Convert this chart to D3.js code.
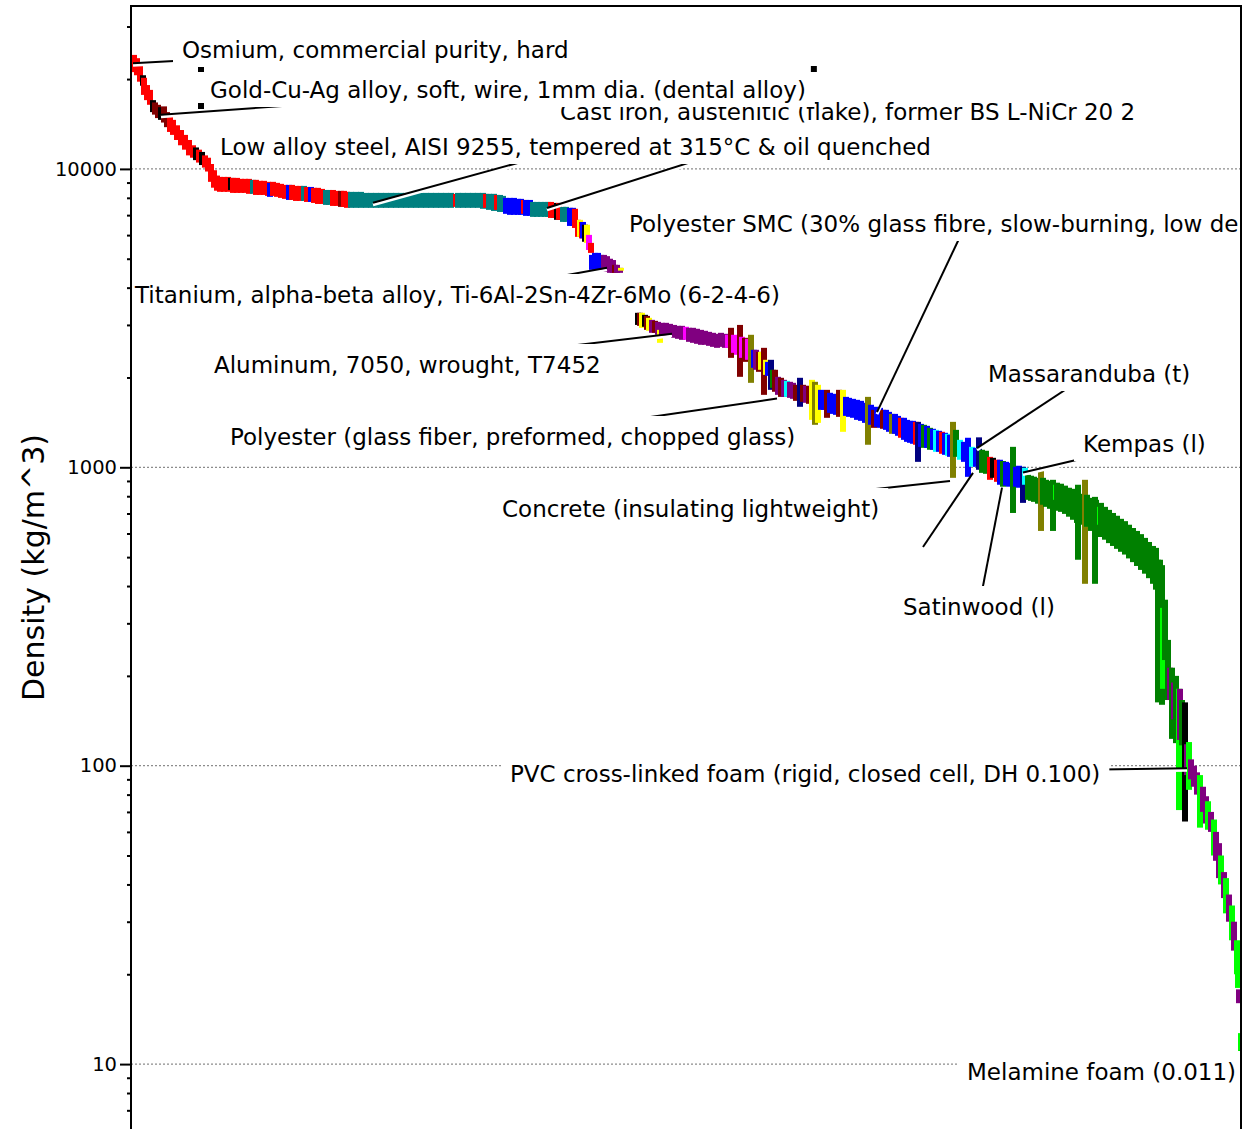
<!DOCTYPE html>
<html>
<head>
<meta charset="utf-8">
<script src="https://cdn.jsdelivr.net/npm/d3@7"></script>
<style>
  body { margin: 0; background: #fff; }
  svg { display: block; font-family: "DejaVu Sans", Verdana, sans-serif; }
  .callout text { font-size: 23px; fill: #000; }
</style>
</head>
<body>
<svg id="chart" width="1255" height="1129"></svg>
<script>
// ---- data -------------------------------------------------------------
// each bar: [rank, density low, density high, family code] (kg/m^3)
const bars = [
  [0, 21100, 24100, "R"], [3, 20600, 23500, "R"], [6, 19600, 22300, "R"],
  [9, 19000, 20600, "K"], [10, 17700, 20200, "R"], [13, 17000, 19100, "R"],
  [16, 16400, 18400, "R"], [19, 15500, 17000, "K"], [21, 15200, 16700, "D"],
  [24, 14800, 16400, "D"], [27, 14600, 16100, "K"], [30, 14300, 16200, "D"],
  [33, 13800, 15500, "D"], [36, 13300, 15200, "R"], [39, 13000, 14600, "R"],
  [43, 12500, 14000, "R"], [47, 12000, 13500, "R"], [51, 11600, 13000, "R"],
  [55, 11100, 12500, "R"], [59, 10900, 12000, "R"], [62, 10700, 11800, "K"],
  [65, 10500, 11600, "R"], [68, 10300, 11400, "K"], [71, 10100, 11100, "R"],
  [74, 9800, 10900, "R"], [77, 9050, 10500, "R"], [80, 8650, 9900, "R"],
  [83, 8450, 9500, "R"],
  [86, 8380, 9400, "R"], [90, 8380, 9400, "R"], [94, 8380, 9400, "R"],
  [97, 8500, 9330, "K"], [99, 8310, 9330, "R"], [103, 8310, 9330, "R"],
  [107, 8310, 9260, "R"], [111, 8310, 9260, "R"], [115, 8250, 9260, "R"],
  [119, 8250, 9190, "T"], [122, 8180, 9190, "R"], [126, 8180, 9120, "R"],
  [130, 8180, 9120, "R"], [134, 8120, 9050, "R"], [136, 8060, 8980, "B"],
  [139, 8120, 9050, "R"], [143, 8060, 8980, "R"], [147, 7995, 8910, "R"],
  [151, 7935, 8840, "R"], [155, 7870, 8840, "B"], [158, 7870, 8840, "R"],
  [162, 7810, 8770, "R"], [166, 7810, 8770, "R"], [170, 7810, 8770, "T"],
  [173, 7750, 8700, "R"], [177, 7750, 8700, "B"], [180, 7690, 8640, "R"],
  [184, 7630, 8640, "R"], [188, 7630, 8570, "R"], [192, 7575, 8500, "T"],
  [195, 7575, 8500, "T"], [199, 7515, 8500, "R"], [203, 7515, 8440, "R"],
  [207, 7460, 8440, "D"], [210, 7460, 8440, "R"], [213, 7405, 8380, "R"],
  [217, 7405, 8375, "T"], [222, 7405, 8375, "T"], [227, 7405, 8375, "T"],
  [232, 7405, 8310, "T"], [237, 7405, 8310, "T"], [242, 7405, 8310, "T"],
  [247, 7405, 8310, "T"], [252, 7405, 8310, "T"], [257, 7405, 8310, "T"],
  [262, 7405, 8310, "T"], [267, 7405, 8310, "T"], [272, 7405, 8310, "T"],
  [277, 7405, 8310, "T"], [282, 7405, 8310, "T"], [287, 7405, 8310, "T"],
  [292, 7405, 8310, "T"], [297, 7405, 8310, "T"], [302, 7405, 8310, "T"],
  [307, 7405, 8310, "T"], [312, 7405, 8310, "T"], [317, 7405, 8310, "T"],
  [322, 7460, 8245, "R"], [324, 7405, 8310, "T"], [329, 7405, 8310, "T"],
  [334, 7405, 8310, "T"], [339, 7405, 8310, "T"], [344, 7405, 8310, "T"],
  [349, 7350, 8310, "T"], [352, 7400, 8245, "R"], [355, 7290, 8250, "T"],
  [360, 7230, 8250, "T"], [363, 7290, 8180, "R"], [366, 7175, 8180, "T"],
  [369, 7175, 8120, "T"],
  [372, 7070, 7995, "B"], [376, 7015, 7995, "B"], [380, 7015, 7995, "B"],
  [384, 7015, 7935, "B"], [387, 7015, 7935, "B"], [390, 7070, 7870, "R"],
  [392, 6960, 7870, "B"], [396, 6960, 7870, "B"], [399, 6906, 7750, "T"],
  [403, 6906, 7750, "T"], [407, 6906, 7750, "T"], [411, 6906, 7750, "T"],
  [414, 6906, 7750, "T"], [417, 6850, 7750, "R"], [420, 6850, 7690, "R"],
  [423, 6750, 7690, "K"], [425, 6750, 7690, "R"], [429, 6643, 7460, "T"],
  [432, 6643, 7460, "T"], [436, 6440, 7405, "B"], [439, 6440, 7405, "B"],
  [441, 6340, 7350, "R"], [444, 5919, 6750, "R"], [446, 5919, 6750, "Y"],
  [448, 5850, 6640, "R"], [449, 5850, 6640, "B"], [451, 5700, 6500, "K"],
  [453, 5650, 6500, "Y"], [455, 5350, 6010, "M"], [457, 5230, 5650, "R"],
  [458, 4590, 5150, "B"], [461, 4590, 5230, "B"], [464, 4590, 5230, "B"],
  [467, 4590, 5150, "B"], [470, 4520, 5150, "P"], [473, 4520, 5100, "P"],
  [476, 4484, 5000, "P"], [479, 4484, 4950, "P"], [481, 4484, 4770, "D"],
  [483, 4484, 4770, "P"], [486, 4484, 4660, "P"], [487, 4560, 4660, "Y"],
  [504, 3000, 3294, "K"], [506, 2979, 3294, "D"], [508, 2934, 3294, "Y"],
  [511, 2957, 3243, "K"], [513, 2888, 3217, "D"], [515, 2867, 3169, "Y"],
  [518, 2823, 3120, "P"], [521, 2823, 3096, "D"], [524, 2780, 3072, "P"],
  [526, 2613, 2888, "Y"], [528, 2758, 3049, "P"], [532, 2737, 3049, "P"],
  [536, 2737, 3025, "P"], [540, 2716, 3000, "P"], [544, 2695, 2979, "P"],
  [548, 2674, 2979, "P"], [552, 2674, 2957, "M"], [555, 2633, 2934, "P"],
  [559, 2613, 2934, "P"], [563, 2593, 2912, "P"], [567, 2573, 2888, "P"],
  [571, 2573, 2867, "P"], [575, 2553, 2844, "P"], [579, 2533, 2823, "P"],
  [583, 2514, 2801, "P"], [587, 2533, 2823, "P"], [591, 2514, 2801, "P"],
  [594, 2514, 2780, "M"], [597, 2327, 2934, "D"], [600, 2419, 2780, "M"],
  [603, 2382, 2758, "M"], [606, 2010, 3000, "D"], [608, 2327, 2737, "M"],
  [611, 2256, 2716, "D"], [614, 2292, 2695, "M"], [617, 1919, 2780, "O"],
  [620, 2155, 2476, "B"], [622, 2122, 2476, "P"], [625, 2089, 2437, "D"],
  [627, 2122, 2437, "Y"], [630, 1749, 2514, "D"], [632, 2041, 2292, "Y"],
  [634, 2025, 2256, "B"], [637, 1818, 2292, "N"], [639, 1846, 2122, "G"],
  [641, 1791, 2122, "D"], [644, 1749, 2010, "P"], [647, 1722, 1995, "D"],
  [650, 1722, 1964, "P"], [653, 1722, 1949, "C"], [656, 1709, 1934, "P"],
  [659, 1696, 1919, "P"], [662, 1670, 1890, "D"], [666, 1595, 1995, "N"],
  [669, 1657, 1890, "D"], [672, 1645, 1875, "P"], [675, 1632, 1875, "D"],
  [678, 1442, 1964, "Y"], [681, 1388, 1934, "O"], [684, 1409, 1890, "Y"],
  [687, 1558, 1818, "B"], [690, 1558, 1804, "B"], [693, 1465, 1818, "D"],
  [696, 1522, 1777, "B"], [699, 1510, 1763, "B"], [702, 1499, 1749, "B"],
  [705, 1476, 1818, "D"], [709, 1315, 1818, "Y"], [712, 1487, 1722, "B"],
  [715, 1476, 1709, "B"], [719, 1465, 1696, "B"], [723, 1442, 1683, "B"],
  [727, 1431, 1670, "B"], [731, 1409, 1645, "B"], [734, 1190, 1722, "O"],
  [737, 1388, 1620, "B"], [740, 1356, 1558, "D"], [743, 1367, 1595, "B"],
  [746, 1356, 1582, "B"], [749, 1346, 1558, "D"], [752, 1335, 1558, "B"],
  [755, 1315, 1534, "B"], [758, 1295, 1510, "O"], [761, 1295, 1510, "B"],
  [764, 1275, 1487, "B"], [767, 1256, 1465, "R"], [770, 1236, 1465, "B"],
  [773, 1217, 1442, "B"], [776, 1208, 1431, "B"], [779, 1199, 1431, "B"],
  [782, 1190, 1420, "R"], [784, 1043, 1420, "N"], [787, 1171, 1398, "B"],
  [790, 1162, 1388, "G"], [793, 1162, 1377, "B"], [796, 1145, 1356, "G"],
  [799, 1145, 1346, "B"], [802, 1127, 1335, "C"], [805, 1127, 1325, "B"],
  [808, 1110, 1315, "R"], [811, 1101, 1305, "B"], [814, 1093, 1295, "C"],
  [816, 1084, 1285, "B"], [819, 922, 1420, "O"], [822, 1084, 1335, "G"],
  [826, 1060, 1236, "C"], [830, 1043, 1217, "B"], [834, 929, 1256, "B"],
  [838, 1004, 1171, "C"], [842, 1004, 1162, "B"], [845, 981, 1260, "N"],
  [848, 958, 1145, "G"], [852, 951, 1136, "G"], [856, 908, 1084, "R"],
  [859, 922, 1076, "K"], [863, 894, 1060, "R"], [866, 874, 1060, "B"],
  [869, 861, 1050, "G"], [872, 868, 1043, "B"], [875, 861, 1035, "B"],
  [879, 703, 1171, "G"], [882, 861, 1004, "B"], [885, 854, 1012, "B"],
  [889, 760, 1004, "N"], [891, 874, 996, "C"],
  [894, 778, 944, "G"], [897, 772, 937, "G"], [900, 766, 930, "G"],
  [904, 755, 922, "G"], [907, 612, 973, "O"], [909, 749, 922, "G"],
  [912, 737, 908, "G"], [916, 726, 901, "G"], [919, 612, 908, "G"],
  [922, 778, 874, "L"], [923, 715, 888, "G"], [927, 709, 881, "G"],
  [931, 698, 868, "G"], [935, 683, 854, "G"], [939, 667, 847, "G"],
  [943, 651, 828, "G"], [944, 490, 874, "G"], [948, 642, 815, "G"],
  [951, 407, 908, "O"], [953, 632, 809, "G"], [957, 612, 790, "G"],
  [961, 407, 796, "G"], [962, 597, 778, "G"], [966, 642, 737, "L"],
  [967, 584, 760, "G"], [971, 572, 737, "G"], [975, 557, 720, "G"],
  [979, 545, 703, "G"], [983, 533, 688, "G"], [987, 521, 672, "G"],
  [991, 510, 660, "G"], [995, 495, 642, "G"], [999, 481, 626, "G"],
  [1003, 467, 612, "G"], [1007, 453, 597, "G"], [1011, 440, 580, "G"],
  [1015, 425, 562, "G"], [1019, 407, 545, "G"], [1022, 389, 537, "G"],
  [1024, 163, 490, "G"], [1026, 338, 490, "G"], [1028, 160, 470, "G"],
  [1029, 181, 338, "L"], [1031, 226, 360, "G"], [1034, 166, 264, "G"],
  [1036, 166, 213, "P"], [1038, 123, 213, "G"], [1040, 143, 190, "P"],
  [1042, 119, 200, "G"], [1045, 71, 181, "L"], [1046, 122, 181, "P"],
  [1048, 117, 166, "G"], [1051, 65, 163, "K"], [1053, 93, 118, "P"],
  [1055, 83, 120, "L"], [1057, 90, 105, "P"], [1060, 85, 100, "P"],
  [1063, 80, 95, "P"], [1066, 62, 93, "L"], [1069, 70, 85, "P"],
  [1072, 64, 79, "P"], [1074, 61, 76, "L"], [1077, 60, 70, "P"],
  [1080, 50, 66, "L"], [1082, 48, 60, "P"], [1085, 42, 55, "P"],
  [1087, 40, 50, "L"], [1090, 36, 44, "P"], [1092, 32, 42, "L"],
  [1095, 30, 37, "P"], [1098, 26, 34, "L"], [1100, 24, 30, "P"],
  [1103, 20, 26, "L"], [1104, 18, 24, "L"], [1105, 16, 17.8, "P"],
  [1107, 9.5, 12.7, "L"]
];

// labelled materials, in drawing order
const calloutNames = [
  "Osmium, commercial purity, hard",
  "Cast iron, austenitic (flake), former BS L-NiCr 20 2",
  "Gold-Cu-Ag alloy, soft, wire, 1mm dia. (dental alloy)",
  "Low alloy steel, AISI 9255, tempered at 315°C & oil quenched",
  "Titanium, alpha-beta alloy, Ti-6Al-2Sn-4Zr-6Mo (6-2-4-6)",
  "Aluminum, 7050, wrought, T7452",
  "Polyester (glass fiber, preformed, chopped glass)",
  "Polyester SMC (30% glass fibre, slow-burning, low density)",
  "Massaranduba (t)",
  "Kempas (l)",
  "Concrete (insulating lightweight)",
  "Satinwood (l)",
  "",
  "PVC cross-linked foam (rigid, closed cell, DH 0.100)",
  "Melamine foam (0.011)"
];
const calloutRanks = [2, 416, 30, 242, 476, 541, 646, 746, 846, 892, 819, 871, 842, 1056, 1109];
const calloutDensities = [22600, 7400, 15200, 7700, 4660, 2800, 1700, 1530, 1160, 960, 900, 855, 958, 98, 11];

const majorTicks = [10, 100, 1000, 10000];
const minorTicks = [7, 8, 9, 20, 30, 40, 50, 60, 70, 80, 90,
  200, 300, 400, 500, 600, 700, 800, 900,
  2000, 3000, 4000, 5000, 6000, 7000, 8000, 9000, 20000, 30000];

// ---- styles / layout ------------------------------------------------------
const familyColor = {
  R: "#ff0000", D: "#800000", K: "#000000", T: "#008080", B: "#0000ff",
  N: "#000080", Y: "#ffff00", M: "#ff00ff", P: "#800080", O: "#808000",
  G: "#008000", L: "#00ff00", C: "#00ffff"
};

// label text position: [left x, vertical centre] in px
const labelLayout = [
  [182, 50], [560, 112], [210, 90], [220, 147], [135, 295], [214, 365],
  [230, 437], [629, 224], [988, 374], [1083, 444], [502, 509], [903, 607],
  [923, 547], [510, 774], [967, 1072]
];

const svg = d3.select("#chart");
const width = +svg.attr("width");
const height = +svg.attr("height");
const margin = { top: 6, right: 14, left: 131 };
const plotRight = width - margin.right;
const barSpan = 6;

const x = d3.scaleLinear().domain([0, 1110]).range([margin.left, plotRight]);
const y = d3.scaleLog().domain([6.06, 35150]).range([height, margin.top]);

svg.append("defs").append("clipPath").attr("id", "plot-clip")
  .append("rect")
  .attr("x", margin.left)
  .attr("y", margin.top)
  .attr("width", plotRight - margin.left)
  .attr("height", height);

const plot = svg.append("g").attr("clip-path", "url(#plot-clip)");

// dotted gridlines at the decades
plot.append("g").selectAll("line")
  .data(majorTicks)
  .join("line")
  .attr("x1", margin.left)
  .attr("x2", plotRight)
  .attr("y1", d => y(d))
  .attr("y2", d => y(d))
  .attr("stroke", "#8c8c8c")
  .attr("stroke-width", 1.3)
  .attr("stroke-dasharray", "2,2");

// range bars
plot.append("g").selectAll("rect")
  .data(bars)
  .join("rect")
  .attr("x", d => x(d[0]))
  .attr("width", x(barSpan) - x(0))
  .attr("y", d => y(d[2]))
  .attr("height", d => y(d[1]) - y(d[2]))
  .attr("fill", d => familyColor[d[3]]);

// callouts: leader line to label centre, then a white label box on top
calloutNames.forEach((name, i) => {
  const g = plot.append("g").attr("class", "callout");
  const px = x(calloutRanks[i]);
  const py = y(calloutDensities[i]);
  const [lx, ly] = labelLayout[i];

  const halo = g.append("line").attr("stroke", "#fff").attr("stroke-width", 3)
    .attr("transform", "translate(0,2)");
  const line = g.append("line").attr("stroke", "#000").attr("stroke-width", 2);

  let cx = lx, cy = ly;
  if (name) {
    const box = g.append("rect").attr("fill", "#fff");
    const text = g.append("text")
      .attr("x", lx)
      .attr("y", ly)
      .attr("dominant-baseline", "central")
      .text(name);
    const bb = text.node().getBBox();
    box.attr("x", bb.x - 9)
      .attr("y", bb.y - 8)
      .attr("width", bb.width + 18)
      .attr("height", bb.height + 12);
    cx = bb.x + bb.width / 2;

    if (i === 2) {
      // selection corner marks on the gold label
      const x0 = bb.x - 9, x1 = bb.x + bb.width + 9;
      const y0 = bb.y - 8, y1 = bb.y + bb.height + 4;
      const marks = [
        `M${x0 - 3},${y0 - 2}h6v5h-6z`,
        `M${x0 - 3},${y1 - 4}h6v6h-6z`,
        `M${x1 - 4},${y0 - 3}h6v6h-6z`
      ];
      g.append("g").selectAll("path").data(marks).join("path")
        .attr("d", d => d).attr("fill", "#000");
    }
  }
  [halo, line].forEach(l => l.attr("x1", px).attr("y1", py).attr("x2", cx).attr("y2", cy));
});

// axis: major and minor ticks
const axisG = svg.append("g")
  .attr("transform", `translate(${margin.left},0)`);

axisG.append("g")
  .call(d3.axisLeft(y).tickValues(majorTicks).tickFormat(d3.format("d")).tickSize(11).tickPadding(3))
  .attr("font-family", null)
  .attr("font-size", null)
  .call(s => s.select(".domain").remove())
  .call(s => s.selectAll(".tick line").attr("stroke-width", 2))
  .call(s => s.selectAll(".tick text").style("font-size", "19.5px").attr("fill", "#000"));

axisG.append("g")
  .call(d3.axisLeft(y).tickValues(minorTicks).tickFormat("").tickSize(4))
  .call(s => s.select(".domain").remove())
  .call(s => s.selectAll(".tick line").attr("stroke-width", 2));

// frame
svg.append("rect")
  .attr("x", margin.left)
  .attr("y", margin.top)
  .attr("width", plotRight - margin.left)
  .attr("height", height + 20)
  .attr("fill", "none")
  .attr("stroke", "#000")
  .attr("stroke-width", 2);

svg.append("text")
  .attr("transform", `translate(33, ${(margin.top + height) / 2}) rotate(-90)`)
  .attr("text-anchor", "middle")
  .attr("dominant-baseline", "central")
  .style("font-size", "30px")
  .text("Density (kg/m^3)");
</script>
</body>
</html>
